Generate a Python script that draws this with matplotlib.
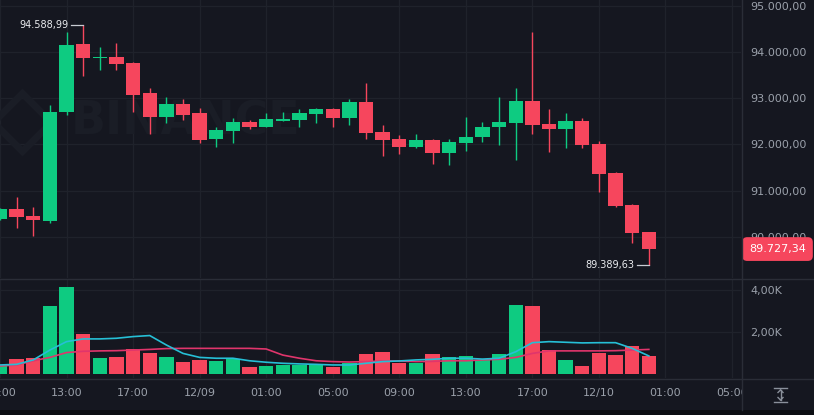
import matplotlib
matplotlib.use('Agg')
import matplotlib.pyplot as plt
import matplotlib.transforms as mtransforms
from matplotlib.lines import Line2D
from matplotlib.patches import Rectangle

# hourly candles, index 0 = 09:00 on 12/08
opens = [90380, 90598, 90446, 90343, 92700, 94178, 93880, 93902, 93778, 93113,
         92604, 92880, 92678, 92113, 92300, 92489, 92387, 92517, 92533, 92670,
         92772, 92583, 92917, 92272, 92120, 91952, 92098, 91809, 92039, 92157,
         92374, 92474, 92946, 92446, 92330, 92511, 92011, 91387, 90685, 90098]
highs = [90620, 90865, 90641, 92859, 94452, 94588.99, 94126, 94200, 93800, 93222,
         93033, 92983, 92787, 92387, 92570, 92533, 92678, 92713, 92765, 92800,
         92790, 92983, 93330, 92424, 92207, 92222, 92120, 92113, 92604, 92496,
         93039, 93222, 94439, 92765, 92678, 92583, 92083, 91400, 90700, 90100]
lows = [90350, 90178, 90017, 90287, 92650, 93496, 93620, 93620, 92713, 92222,
        92461, 92533, 92039, 91952, 92026, 92330, 92370, 92500, 92374, 92461,
        92374, 92424, 92113, 91750, 91793, 91930, 91576, 91554, 91865, 92061,
        91989, 91663, 92228, 91843, 91917, 91917, 90974, 90640, 89865, 89389.63]
closes = [90591, 90424, 90352, 92700, 94163, 93887, 93900, 93757, 93076, 92604,
          92880, 92641, 92098, 92315, 92496, 92387, 92548, 92561, 92691, 92772,
          92583, 92917, 92257, 92098, 91952, 92098, 91809, 92061, 92170, 92387,
          92496, 92946, 92424, 92330, 92511, 91989, 91359, 90663, 90070, 89727.34]

# volume in thousands
volumes = [0.40, 0.71, 0.78, 3.25, 4.16, 1.90, 0.78, 0.83, 1.19, 0.98,
           0.79, 0.59, 0.67, 0.62, 0.70, 0.33, 0.38, 0.44, 0.43, 0.43,
           0.35, 0.51, 0.94, 1.06, 0.54, 0.51, 0.95, 0.79, 0.86, 0.67,
           0.94, 3.29, 3.25, 1.14, 0.67, 0.38, 1.02, 0.90, 1.33, 0.87]
vol_ma_fast = [0.43, 0.46, 0.67, 1.14, 1.54, 1.67, 1.67, 1.70, 1.78, 1.83,
               1.38, 0.98, 0.79, 0.75, 0.75, 0.63, 0.56, 0.51, 0.48, 0.46,
               0.43, 0.43, 0.51, 0.59, 0.62, 0.67, 0.70, 0.75, 0.75, 0.71,
               0.75, 1.06, 1.49, 1.54, 1.51, 1.48, 1.49, 1.49, 1.22, 0.86]
vol_ma_slow = [0.38, 0.43, 0.63, 0.79, 1.02, 1.08, 1.10, 1.11, 1.14, 1.17,
               1.21, 1.22, 1.22, 1.22, 1.22, 1.22, 1.19, 0.90, 0.75, 0.63,
               0.59, 0.57, 0.59, 0.62, 0.62, 0.59, 0.60, 0.63, 0.63, 0.67,
               0.70, 0.79, 0.98, 1.10, 1.10, 1.10, 1.10, 1.11, 1.14, 1.17]

tick_idx = [0, 4, 8, 12, 16, 20, 24, 28, 32, 36, 40, 44]
tick_labels = ['09:00', '13:00', '17:00', '12/09', '01:00', '05:00',
               '09:00', '13:00', '17:00', '12/10', '01:00', '05:00']
price_ticks = [90000, 91000, 92000, 93000, 94000, 95000]
vol_ticks = [2, 4]

BG = '#151720'
GRID = '#1f222b'
SEP = '#2a2d37'
GREEN = '#0ecb81'
RED = '#f6465d'
TXT = '#9aa0aa'
WMARK = '#1a1d26'

W, H = 814, 415
fig = plt.figure(figsize=(W / 100, H / 100), dpi=100, facecolor=BG)


def px_axes(x0, y0, x1, y1):
    a = fig.add_axes([x0 / W, 1 - y1 / H, (x1 - x0) / W, (y1 - y0) / H])
    a.set_facecolor(BG)
    for s in a.spines.values():
        s.set_visible(False)
    return a


def fig_line(x0, y0, x1, y1, **kw):
    fig.add_artist(Line2D([x0 / W, x1 / W], [1 - y0 / H, 1 - y1 / H],
                          transform=fig.transFigure, **kw))


def fmt_price(p):
    return f'{p:,.2f}'.replace(',', ' ').replace('.', ',').replace(' ', '.')


ax = px_axes(0, 0, 741, 278)
axv = px_axes(0, 279, 741, 378)

idx = list(range(len(opens)))
cols = [GREEN if c >= o else RED for o, c in zip(opens, closes)]
bodies = [max(abs(c - o), 22) for o, c in zip(opens, closes)]
bottoms = [min(o, c) for o, c in zip(opens, closes)]

# candles
ax.vlines(idx, lows, highs, colors=cols, lw=1.0, zorder=3)
ax.bar(idx, bodies, bottom=bottoms, width=0.86, color=cols, zorder=4)

ax.set_xlim(0.036, 44.54)
ax.set_ylim(89098, 95141)
ax.set_axisbelow(True)
ax.grid(True, color=GRID, lw=0.9)
ax.set_xticks(tick_idx)
ax.tick_params(axis='x', length=0, labelbottom=False)
ax.yaxis.tick_right()
ax.set_yticks(price_ticks)
ax.set_yticklabels([fmt_price(p) for p in price_ticks])
ax.tick_params(axis='y', length=0, pad=6.5, labelsize=8, labelcolor=TXT)

# watermark
ax.text(4.25, 92480, 'BINANCE', fontsize=33, fontweight='bold', color=WMARK,
        va='center', ha='left', zorder=1)
ax.plot([1.3], [92480], marker='D', ms=30, mfc='none', mec=WMARK, mew=5, zorder=1)

# high / low markers
hi_i = highs.index(max(highs))
lo_i = lows.index(min(lows))
ax.plot([hi_i - 0.72, hi_i], [highs[hi_i]] * 2, color='#c8ccd3', lw=0.9, zorder=5)
ax.text(hi_i - 0.88, highs[hi_i], fmt_price(highs[hi_i]),
        ha='right', va='center', fontsize=7, color='#eaecef', zorder=5)
ax.plot([lo_i - 0.72, lo_i], [lows[lo_i]] * 2, color='#c8ccd3', lw=0.9, zorder=5)
ax.text(lo_i - 0.88, lows[lo_i], fmt_price(lows[lo_i]),
        ha='right', va='center', fontsize=7, color='#eaecef', zorder=5)

# last price tag
blend = mtransforms.blended_transform_factory(fig.transFigure, ax.transData)
ax.text(777.5 / W, closes[-1], fmt_price(closes[-1]),
        transform=blend, ha='center', va='center', fontsize=8, color='white',
        clip_on=False, zorder=10,
        bbox=dict(boxstyle='round,pad=0.62,rounding_size=0.45', fc=RED, ec='none'))

# volume panel
axv.bar(idx, volumes, width=0.86, color=cols, zorder=3)
axv.plot(idx, vol_ma_slow, color='#e0356c', lw=1.2, zorder=4)
axv.plot(idx, vol_ma_fast, color='#26bfd6', lw=1.2, zorder=5)
axv.set_xlim(0.036, 44.54)
axv.set_ylim(-0.19, 4.52)
axv.set_axisbelow(True)
axv.grid(True, color=GRID, lw=0.9)
axv.set_xticks(tick_idx)
axv.set_xticklabels(tick_labels)
axv.tick_params(axis='x', length=0, pad=7.5, labelsize=8, labelcolor=TXT)
axv.yaxis.tick_right()
axv.set_yticks(vol_ticks)
axv.set_yticklabels([f'{v:.2f}K'.replace('.', ',') for v in vol_ticks])
axv.tick_params(axis='y', length=0, pad=6.5, labelsize=8, labelcolor=TXT)

# price scale corner covers the clipped time label
fig.add_artist(Rectangle((742 / W, 1 - 410 / H), 72 / W, 31 / H,
                         transform=fig.transFigure, fc=BG, ec='none', zorder=1))
fig.add_artist(Rectangle((0, 0), 1, 5 / H, transform=fig.transFigure,
                         fc='#0c0e13', ec='none', zorder=1))

# panel separators
fig_line(0, 278.5, W, 278.5, color=SEP, lw=1, zorder=2)
fig_line(0, 378.5, W, 378.5, color=SEP, lw=1, zorder=2)
fig_line(741.5, 0, 741.5, 410, color=SEP, lw=1, zorder=2)

# auto-scale icon
ic = '#8a909b'
fig_line(774, 388, 787, 388, color=ic, lw=1, zorder=3)
fig_line(774, 401.5, 787, 401.5, color=ic, lw=1, zorder=3)
fig_line(780.5, 390, 780.5, 400, color=ic, lw=1, zorder=3)
fig_line(778, 392.5, 780.5, 390, color=ic, lw=1, zorder=3)
fig_line(783, 392.5, 780.5, 390, color=ic, lw=1, zorder=3)
fig_line(778, 397.5, 780.5, 400, color=ic, lw=1, zorder=3)
fig_line(783, 397.5, 780.5, 400, color=ic, lw=1, zorder=3)

fig.savefig('out.png', dpi=100, facecolor=BG)
